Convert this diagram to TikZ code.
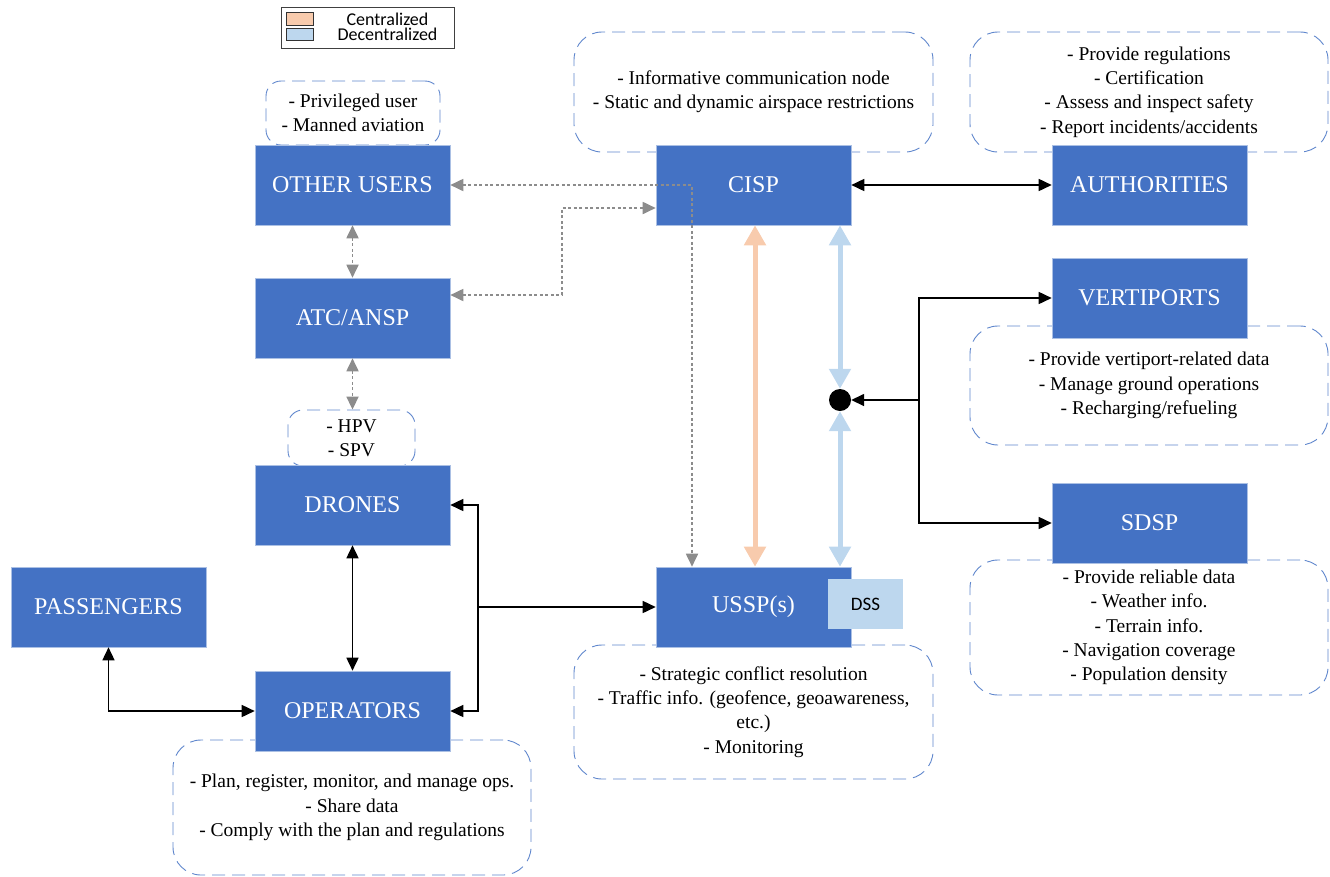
\documentclass[tikz,border=0pt]{standalone}
\usepackage{fontspec}
\setmainfont{Liberation Serif}
\newfontfamily\calib{Carlito}
\usetikzlibrary{arrows.meta}
\definecolor{boxblue}{HTML}{4472C4}
\definecolor{lblue}{HTML}{BDD7EE}
\definecolor{lorange}{HTML}{F8CBAD}
\definecolor{dgray}{HTML}{8C8C8C}
\begin{document}
\begin{tikzpicture}[x=1pt,y=-1pt,
  bluebox/.style={fill=boxblue, draw=boxblue!45!white, line width=0.6pt, text=white,
    minimum width=195pt, minimum height=80pt, inner sep=0pt, font=\fontsize{24}{28}\selectfont},
  note/.style={draw=boxblue!85, dash pattern=on 13pt off 7pt, line width=0.9pt,
    rounded corners=28pt, align=center, inner sep=0pt, fill=white,
    font=\fontsize{19.5}{24.3}\selectfont},
  smallnote/.style={note, rounded corners=15pt},
  conn/.style={draw=black, line width=1.6pt, >={Triangle[length=13pt,width=12pt]}},
  gconn/.style={draw=dgray, line width=1.8pt, dash pattern=on 3pt off 2.5pt,
    >={Triangle[length=13pt,width=12pt]}, dgray},
  thick/.style={line width=5pt, >={Triangle[length=20pt,width=21pt]}},
  swatch/.style={draw=black!80, line width=0.8pt, minimum width=27pt, minimum height=12.5pt, inner sep=0pt},
  legtext/.style={font=\calib\fontsize{18}{14.5}\selectfont, align=center, inner sep=0pt}
]
\useasboundingbox (0,0) rectangle (1330,876);

% legend
\node[draw=black!75, line width=0.8pt, minimum width=173pt, minimum height=41pt, inner sep=0pt] (legend) at (367.5,27.5) {};
\node[swatch, fill=lorange] (sw1) at (299.5,19) {};
\node[swatch, fill=lblue] (sw2) at (299.5,34.5) {};
\node[legtext] (lt) at (387.5,27) {Centralized\\Decentralized};

% notes
\node[smallnote, minimum width=174pt, minimum height=64pt] (ounote) at (353,113) {- Privileged user\\- Manned aviation};
\node[note, minimum width=359pt, minimum height=120pt] (cispnote) at (753.5,92) {- Informative communication node\\- Static and dynamic airspace restrictions};
\node[note, minimum width=358pt, minimum height=120pt] (aunote) at (1149,92) {- Provide regulations\\- Certification\\- Assess and inspect safety\\- Report incidents/accidents};
\node[smallnote, minimum width=127pt, minimum height=56pt] (hpvnote) at (351.5,438) {- HPV\\- SPV};
\node[note, minimum width=358pt, minimum height=119pt] (vpnote) at (1149,385.5) {- Provide vertiport-related data\\- Manage ground operations\\- Recharging/refueling};
\node[note, minimum width=358pt, minimum height=135pt] (sdnote) at (1149,627.5) {- Provide reliable data\\- Weather info.\\- Terrain info.\\- Navigation coverage\\- Population density};
\node[note, minimum width=359pt, minimum height=134pt] (usnote) at (753.5,712) {- Strategic conflict resolution\\- Traffic info. (geofence, geoawareness,\\etc.)\\- Monitoring};
\node[note, minimum width=358pt, minimum height=135pt] (opnote) at (352,807.5) {- Plan, register, monitor, and manage ops.\\- Share data\\- Comply with the plan and regulations};

% blue boxes
\node[bluebox] (ou) at (352.5,185) {OTHER USERS};
\node[bluebox] (cisp) at (753.5,185) {CISP};
\node[bluebox] (au) at (1149.5,185) {AUTHORITIES};
\node[bluebox] (atc) at (352.5,318) {ATC/ANSP};
\node[bluebox] (vp) at (1149.5,298) {VERTIPORTS};
\node[bluebox] (dr) at (352.5,505) {DRONES};
\node[bluebox] (sd) at (1149.5,523) {SDSP};
\node[bluebox] (pa) at (108.5,607) {PASSENGERS};
\node[bluebox] (op) at (352.5,711) {OPERATORS};
\node[bluebox] (ussp) at (753.5,607) {USSP(s)};
\node[fill=lblue, minimum width=75pt, minimum height=50pt, inner sep=0pt, font=\calib\fontsize{19}{22}\selectfont] (dss) at (865.5,604) {DSS};

% junction points
\node[circle, fill=black, minimum size=22pt, inner sep=0pt] (dot) at (840,400) {};
\coordinate (c1) at (692,185);
\coordinate (jb) at (478,607);
\coordinate (jr) at (919,400);
\coordinate (ja) at (562,295);

% gray dashed connectors
\draw[gconn, <->] (ou.east) -- (c1) -- (c1 |- ussp.north);
\draw[gconn, <->] ([yshift=23pt]atc.east) -- (ja) |- ([yshift=-23pt]cisp.west);
\draw[gconn, <->] (ou.south) -- (atc.north);
\draw[gconn, <->] (atc.south) -- (atc.south |- hpvnote.north);

% black connectors
\draw[conn, <->] (dr.south) -- (op.north);
\draw[conn, <->] (pa.south) |- (op.west);
\draw[conn, <->] (dr.east) -| (jb) |- (op.east);
\draw[conn, ->] (jb) -- (ussp.west);
\draw[conn, <->] (cisp.east) -- (au.west);
\draw[conn, ->] (jr) -- (dot.east);
\draw[conn, <->] (vp.west) -| (jr) |- (sd.west);

% thick colored connectors
\draw[thick, lorange, <->] ([xshift=1.5pt]cisp.south) -- ([xshift=1.5pt]ussp.north);
\draw[thick, lblue, <->] (cisp.south -| dot) -- (dot.north);
\draw[thick, lblue, <->] (dot.south) -- (ussp.north -| dot);
\end{tikzpicture}
\end{document}
